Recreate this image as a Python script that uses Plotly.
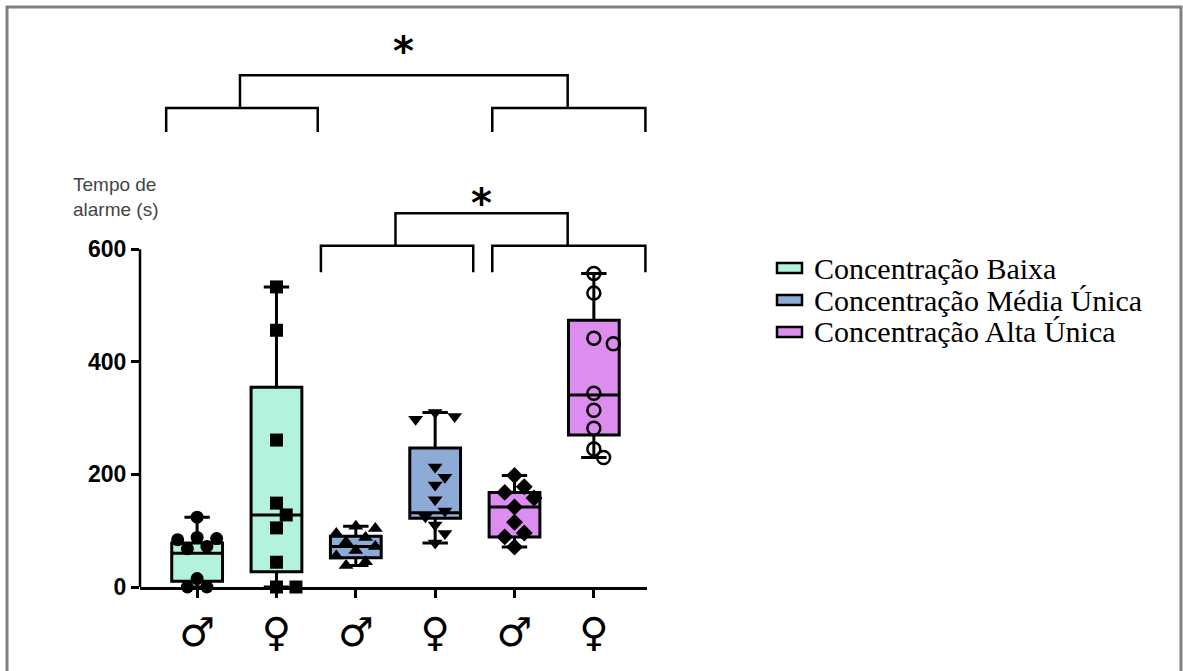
import plotly.graph_objects as go

# Sex of each group, in plotting order (low, medium, high concentration)
sex_labels = ["♂", "♀", "♂", "♀", "♂", "♀"]
series_names = ["Concentração Baixa", "Concentração Média Única", "Concentração Alta Única"]
series_colors = ["#b3f2dd", "#8eaad6", "#dd8cef"]

# Alarm time (s) of each animal
low_male = [124, 88, 86, 84, 72, 68, 15, 0, 0]
low_female = [533, 456, 261, 149, 128, 105, 44, 0, 0]
mid_male = [108, 104, 95, 88, 80, 72, 65, 55, 45, 38]
mid_female = [310, 303, 298, 213, 195, 181, 155, 135, 125, 110, 95, 78]
high_male = [198, 178, 168, 158, 142, 115, 96, 89, 71]
high_female = [557, 522, 442, 432, 344, 314, 282, 245, 230]

# Box quartiles per group (whiskers go from min to max)
box_q1 = [10, 27, 52, 122, 89, 270]
box_median = [60, 128, 72, 132, 142, 341]
box_q3 = [78, 355, 90, 247, 168, 474]

groups = [low_male, low_female, mid_male, mid_female, high_male, high_female]
marker_symbols = ["circle", "square", "triangle-up", "triangle-down", "diamond", "circle-open"]

y_ticks = [0, 200, 400, 600]

# ---- layout geometry ----
W, H = 1183, 671
M_L, M_R, M_T, M_B = 140, 536, 24, 84
X_RANGE = [-0.72, 5.67]
Y_RANGE = [0, 1000]
plot_w = W - M_L - M_R
plot_h = H - M_T - M_B
px_x = plot_w / (X_RANGE[1] - X_RANGE[0])
px_y = plot_h / (Y_RANGE[1] - Y_RANGE[0])
MARKER = 13


def px_to_paper_x(px):
    return (px - M_L) / plot_w


def px_to_paper_y(py):
    return (H - M_B - py) / plot_h


def swarm(values, size=MARKER):
    """Horizontal offsets (category units) so markers do not overlap."""
    placed = []
    offsets = []
    step = size * 0.75
    for v in values:
        k = 0
        while True:
            cand = 0 if k == 0 else ((k + 1) // 2) * step * (1 if k % 2 else -1)
            ok = True
            for (ox, oy) in placed:
                dx = cand - ox
                dy = (v - oy) * px_y
                if dx * dx + dy * dy < (size * 0.95) ** 2:
                    ok = False
                    break
            if ok:
                break
            k += 1
        placed.append((cand, v))
        offsets.append(cand / px_x)
    return offsets


fig = go.Figure()

for s in range(3):
    i0, i1 = 2 * s, 2 * s + 1
    fig.add_trace(go.Box(
        x=[i0, i1],
        q1=[box_q1[i0], box_q1[i1]],
        median=[box_median[i0], box_median[i1]],
        q3=[box_q3[i0], box_q3[i1]],
        lowerfence=[min(groups[i0]), min(groups[i1])],
        upperfence=[max(groups[i0]), max(groups[i1])],
        width=0.64,
        whiskerwidth=0.5,
        fillcolor=series_colors[s],
        line=dict(color="black", width=3),
        boxpoints=False,
        name=series_names[s],
        showlegend=False,
        hoverinfo="skip",
    ))

for i, vals in enumerate(groups):
    offs = swarm(vals)
    sym = marker_symbols[i]
    open_marker = sym.endswith("open")
    fig.add_trace(go.Scatter(
        x=[i + o for o in offs],
        y=vals,
        mode="markers",
        marker=dict(
            symbol=sym,
            size=MARKER,
            color="black",
            line=dict(color="black", width=2.5 if open_marker else 0),
        ),
        cliponaxis=False,
        showlegend=False,
        hoverinfo="skip",
    ))

# ---- significance brackets: (left, right, leg bottom, bar) ----
pair_brackets = [(-0.39, 1.52, 808, 851), (3.72, 5.65, 808, 851),
                 (1.56, 3.48, 559, 606), (3.72, 5.65, 559, 606)]
link_brackets = [(0.54, 4.67, 851, 909), (2.5, 4.67, 606, 664)]
star_heights = [962, 693]

bx, by = [], []
for (a, b, lo, hi) in pair_brackets + link_brackets:
    bx += [a, a, b, b, None]
    by += [lo, hi, hi, lo, None]
fig.add_trace(go.Scatter(
    x=bx, y=by, mode="lines",
    line=dict(color="black", width=2.5),
    cliponaxis=False, showlegend=False, hoverinfo="skip",
))

for (a, b, lo, hi), ys in zip(link_brackets, star_heights):
    fig.add_annotation(
        x=(a + b) / 2, y=ys, yshift=-6, text="*", showarrow=False,
        xref="x", yref="y", yanchor="middle",
        font=dict(family="DejaVu Sans", size=40, color="black", weight="bold"),
    )

# y axis line only up to the last tick
fig.add_shape(type="line", xref="paper", yref="y", x0=0, x1=0, y0=0, y1=max(y_ticks),
              line=dict(color="black", width=2.5))

# outer frame
fig.add_shape(type="rect", xref="paper", yref="paper",
              x0=px_to_paper_x(7), x1=px_to_paper_x(1181),
              y0=px_to_paper_y(700), y1=px_to_paper_y(7),
              line=dict(color="#808080", width=3), layer="below")

fig.add_annotation(
    text="Tempo de<br>alarme (s)", showarrow=False,
    xref="paper", yref="paper", xanchor="left", yanchor="middle", align="left",
    x=px_to_paper_x(71), y=px_to_paper_y(197),
    font=dict(family="Liberation Sans, Arial", size=19, color="#444444"),
)

# legend: filled swatch + series name
legend_rows = [268, 300, 332]
for name, color, row in zip(series_names, series_colors, legend_rows):
    fig.add_shape(type="rect", xref="paper", yref="paper",
                  x0=px_to_paper_x(777), x1=px_to_paper_x(802),
                  y0=px_to_paper_y(row + 5), y1=px_to_paper_y(row - 5),
                  fillcolor=color, line=dict(color="black", width=2.5))
    fig.add_annotation(
        text=name, showarrow=False, xref="paper", yref="paper",
        xanchor="left", yanchor="middle",
        x=px_to_paper_x(812), y=px_to_paper_y(row),
        font=dict(family="Liberation Serif, Times New Roman", size=30, color="black"),
    )

fig.update_layout(
    width=W, height=H,
    margin=dict(l=M_L, r=M_R, t=M_T, b=M_B),
    paper_bgcolor="white", plot_bgcolor="white",
    showlegend=False,
    xaxis=dict(
        range=X_RANGE, tickmode="array", tickvals=list(range(6)), ticktext=sex_labels,
        showline=True, linecolor="black", linewidth=2.5,
        ticks="outside", ticklen=8, tickwidth=2.5, tickcolor="black",
        tickfont=dict(family="DejaVu Sans", size=40, color="black"),
        showgrid=False, zeroline=False,
    ),
    yaxis=dict(
        range=Y_RANGE, tickmode="array", tickvals=y_ticks,
        showline=False, ticks="outside", ticklen=8, tickwidth=2.5, tickcolor="black",
        tickfont=dict(family="Liberation Sans, Arial", size=23, color="black", weight="bold"),
        showgrid=False, zeroline=False,
    ),
)

fig.write_html("out.html")
